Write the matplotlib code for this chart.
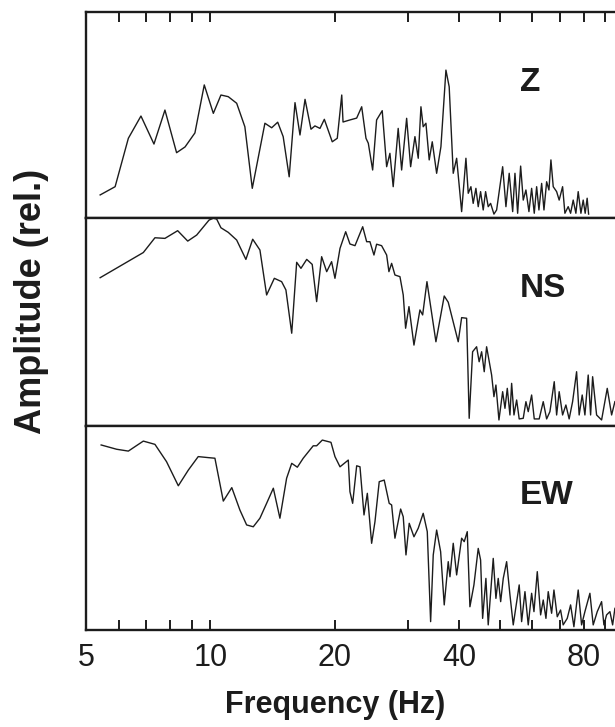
import matplotlib
matplotlib.use('Agg')
import matplotlib.pyplot as plt
from matplotlib.ticker import FixedLocator, FixedFormatter, NullFormatter

plt.rcParams['font.family'] = ['Liberation Sans', 'DejaVu Sans']

# Spectra for the three components (frequency in Hz, relative amplitude)
z_freq = [5.41, 5.88, 6.33, 6.79, 7.30, 7.76, 8.28, 8.68, 9.17, 9.66, 10.16, 10.60, 11.04, 11.57,
          12.11, 12.62, 13.54, 14.06, 14.54, 14.99, 15.50, 16.01, 16.46, 16.93, 17.50, 17.89, 18.40,
          18.85, 19.70, 20.26, 20.77, 20.92, 21.74, 22.57, 23.21, 23.77, 24.08, 24.67, 25.22, 26.02,
          26.67, 27.16, 27.66, 28.44, 28.99, 29.81, 30.48, 31.22, 31.80, 32.28, 32.69, 33.19, 33.80,
          34.38, 35.23, 36.08, 37.10, 37.78, 38.64, 39.38, 40.49, 41.47, 42.01, 42.64, 43.18, 43.84,
          44.41, 45.00, 45.66, 46.27, 46.95, 47.58, 48.47, 49.20, 50.88, 51.82, 52.77, 53.80, 54.49,
          55.31, 56.24, 57.06, 57.92, 58.90, 59.79, 60.67, 61.48, 62.27, 63.22, 64.04, 65.00, 65.84,
          66.57, 67.43, 68.72, 69.70, 71.04, 71.96, 73.29, 74.28, 75.36, 76.50, 77.49, 78.67, 79.68,
          80.56, 81.45, 82.11]
z_amp = [0.112, 0.152, 0.387, 0.495, 0.359, 0.524, 0.317, 0.345, 0.413, 0.646, 0.508, 0.597, 0.589,
         0.557, 0.443, 0.144, 0.460, 0.438, 0.465, 0.395, 0.200, 0.560, 0.403, 0.576, 0.431, 0.447,
         0.435, 0.479, 0.370, 0.387, 0.597, 0.466, 0.476, 0.485, 0.540, 0.387, 0.363, 0.233, 0.476,
         0.521, 0.249, 0.314, 0.152, 0.435, 0.233, 0.484, 0.249, 0.395, 0.290, 0.540, 0.443, 0.460,
         0.282, 0.370, 0.217, 0.346, 0.718, 0.637, 0.217, 0.290, 0.031, 0.290, 0.120, 0.152, 0.071,
         0.144, 0.055, 0.128, 0.039, 0.128, 0.055, 0.071, 0.019, 0.039, 0.249, 0.055, 0.217, 0.031,
         0.217, 0.023, 0.252, 0.087, 0.136, 0.031, 0.144, 0.023, 0.152, 0.039, 0.168, 0.039, 0.176,
         0.136, 0.282, 0.152, 0.128, 0.087, 0.152, 0.023, 0.055, 0.023, 0.087, 0.023, 0.128, 0.023,
         0.087, 0.023, 0.096, 0.019]

ns_freq = [5.41, 6.88, 7.34, 7.76, 8.33, 8.81, 9.26, 9.92, 10.16, 10.35, 10.60, 11.04, 11.57, 12.18,
           12.65, 13.17, 13.67, 14.27, 14.86, 15.22, 15.72, 16.16, 16.55, 17.09, 17.62, 18.06, 18.57,
           19.10, 19.63, 20.00, 20.57, 21.23, 21.74, 22.36, 23.34, 23.86, 24.30, 24.85, 25.22, 25.93,
           26.67, 27.01, 27.42, 27.93, 28.72, 29.25, 29.64, 30.20, 31.05, 32.10, 32.59, 33.38, 35.09,
           36.75, 37.58, 39.73, 40.49, 41.63, 42.23, 43.04, 44.01, 44.64, 45.26, 45.92, 46.53, 47.85,
           48.47, 49.01, 49.84, 50.88, 51.54, 52.21, 52.99, 53.49, 54.19, 55.00, 55.79, 57.06, 57.92,
           58.67, 59.79, 60.67, 62.36, 63.78, 65.00, 66.20, 67.81, 68.72, 69.70, 71.04, 72.36, 73.68,
           75.11, 76.80, 77.90, 79.24, 80.44, 81.93, 83.03, 83.97, 85.85, 88.27, 91.09, 93.34, 95.06]
ns_amp = [0.713, 0.834, 0.905, 0.902, 0.939, 0.889, 0.918, 0.990, 0.999, 0.995, 0.953, 0.931, 0.894,
          0.801, 0.898, 0.846, 0.630, 0.710, 0.694, 0.654, 0.446, 0.787, 0.758, 0.801, 0.777, 0.598,
          0.814, 0.742, 0.790, 0.710, 0.854, 0.934, 0.875, 0.867, 0.958, 0.886, 0.886, 0.822, 0.874,
          0.867, 0.822, 0.742, 0.782, 0.726, 0.718, 0.630, 0.470, 0.574, 0.389, 0.558, 0.534, 0.694,
          0.405, 0.625, 0.595, 0.405, 0.521, 0.518, 0.037, 0.357, 0.381, 0.309, 0.357, 0.261, 0.381,
          0.245, 0.141, 0.197, 0.029, 0.165, 0.085, 0.181, 0.053, 0.205, 0.053, 0.125, 0.034, 0.037,
          0.117, 0.069, 0.149, 0.034, 0.034, 0.117, 0.034, 0.069, 0.213, 0.053, 0.165, 0.053, 0.101,
          0.034, 0.117, 0.261, 0.053, 0.149, 0.053, 0.245, 0.053, 0.237, 0.053, 0.029, 0.181, 0.053,
          0.117]

ew_freq = [5.44, 5.93, 6.33, 6.57, 6.88, 7.34, 7.83, 8.36, 8.84, 9.34, 9.88, 10.25, 10.74, 11.26,
           11.78, 12.23, 12.69, 13.17, 13.67, 14.19, 14.72, 15.28, 15.72, 16.22, 16.76, 17.72, 18.06,
           18.64, 19.56, 20.00, 20.57, 21.54, 21.74, 22.07, 22.57, 22.99, 23.51, 23.95, 24.53, 24.99,
           25.59, 26.31, 27.05, 27.42, 27.93, 28.83, 29.25, 29.70, 30.24, 31.05, 31.80, 32.69, 33.44,
           34.07, 34.57, 35.23, 36.02, 36.75, 37.58, 37.94, 38.64, 39.38, 40.49, 41.08, 41.78, 42.40,
           43.36, 44.41, 45.00, 45.51, 46.35, 46.95, 48.28, 49.01, 49.64, 50.32, 51.05, 52.02, 52.99,
           53.97, 55.79, 56.55, 57.61, 58.67, 59.79, 60.57, 61.70, 62.86, 63.78, 64.75, 65.58, 66.83,
           67.70, 68.96, 70.25, 71.27, 72.90, 74.28, 75.66, 77.49, 78.97, 80.44, 82.71, 84.24, 86.16,
           88.27, 89.42, 90.76, 92.46, 93.86, 95.06]
ew_amp = [0.907, 0.886, 0.877, 0.899, 0.926, 0.910, 0.825, 0.707, 0.784, 0.850, 0.845, 0.842, 0.632,
          0.698, 0.588, 0.515, 0.506, 0.548, 0.621, 0.695, 0.548, 0.744, 0.817, 0.798, 0.842, 0.903,
          0.903, 0.931, 0.920, 0.850, 0.800, 0.833, 0.678, 0.621, 0.805, 0.800, 0.564, 0.670, 0.425,
          0.531, 0.727, 0.735, 0.621, 0.613, 0.450, 0.593, 0.555, 0.368, 0.523, 0.457, 0.499, 0.572,
          0.482, 0.041, 0.368, 0.490, 0.384, 0.123, 0.335, 0.261, 0.425, 0.270, 0.450, 0.433, 0.482,
          0.114, 0.221, 0.400, 0.343, 0.057, 0.253, 0.025, 0.351, 0.155, 0.253, 0.139, 0.253, 0.335,
          0.172, 0.025, 0.221, 0.041, 0.188, 0.025, 0.180, 0.090, 0.286, 0.074, 0.147, 0.057, 0.188,
          0.082, 0.196, 0.065, 0.098, 0.025, 0.057, 0.123, 0.016, 0.196, 0.025, 0.090, 0.180, 0.025,
          0.090, 0.139, 0.025, 0.074, 0.090, 0.025, 0.106]

components = ['Z', 'NS', 'EW']
freq_ticks = [5, 10, 20, 40, 80]
freq_tick_labels = ['5', '10', '20', '40', '80']
minor_ticks = [6, 7, 8, 9, 30, 50, 60, 70, 90]

series = [(z_freq, z_amp), (ns_freq, ns_amp), (ew_freq, ew_amp)]

INK = '#1c1c1c'
W, H = 615, 727
fig = plt.figure(figsize=(W / 100, H / 100), dpi=100)

# panel rows in pixels (top, bottom); the axis runs 5-100 Hz, the right end falls off the page
rows = [(12, 218), (218, 426), (426, 630)]
x_left = 86
x_right = 624

for i, ((top, bot), (f, a), name) in enumerate(zip(rows, series, components)):
    ax = fig.add_axes([x_left / W, 1 - bot / H, (x_right - x_left) / W, (bot - top) / H])
    ax.plot(f, a, color=INK, lw=1.0)
    ax.set_xscale('log')
    ax.set_xlim(5, 100)
    ax.set_ylim(0, 1)
    ax.set_yticks([])

    ax.xaxis.set_major_locator(FixedLocator(freq_ticks))
    ax.xaxis.set_major_formatter(FixedFormatter(freq_tick_labels))
    ax.xaxis.set_minor_locator(FixedLocator(minor_ticks))
    ax.xaxis.set_minor_formatter(NullFormatter())
    ax.tick_params(axis='x', which='both', direction='in', length=7, width=1.4, color=INK,
                   top=(i == 0), bottom=(i == 2), labelbottom=(i == 2), labeltop=False,
                   labelsize=22, pad=9, labelcolor=INK)

    for sp in ax.spines.values():
        sp.set_linewidth(1.7)
        sp.set_color(INK)

    ax.text(0.806, 0.66, name, transform=ax.transAxes, fontsize=24, fontweight='bold',
            ha='left', va='center', color=INK)

fig.text(335 / W, 1 - 705 / H, 'Frequency (Hz)', ha='center', va='center',
         fontsize=22, fontweight='bold', color=INK)
fig.text(32 / W, 1 - 301 / H, 'Amplitude (rel.)', ha='center', va='center', rotation=90,
         fontsize=26, fontweight='bold', color=INK)

fig.savefig('out.png', dpi=100, facecolor='white')
